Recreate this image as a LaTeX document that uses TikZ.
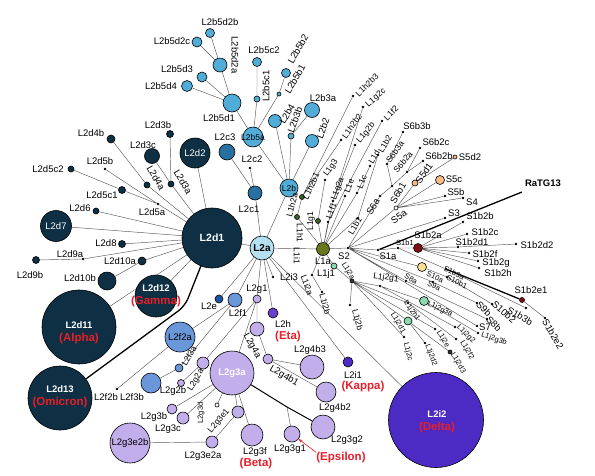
\documentclass[tikz,border=0pt]{standalone}
\usepackage{fontspec}
\setmainfont{Liberation Sans}
\usetikzlibrary{arrows.meta,backgrounds}

\definecolor{navy}{RGB}{14,47,68}
\definecolor{skyb}{RGB}{82,172,216}
\definecolor{midb}{RGB}{40,112,160}
\definecolor{paleb}{RGB}{180,224,242}
\definecolor{deepb}{RGB}{30,84,162}
\definecolor{cornb}{RGB}{106,150,218}
\definecolor{lilac}{RGB}{194,174,234}
\definecolor{violetb}{RGB}{104,66,204}
\definecolor{indig}{RGB}{76,42,196}
\definecolor{oliveb}{RGB}{106,118,30}
\definecolor{leaf}{RGB}{60,100,40}
\definecolor{mint}{RGB}{140,216,176}
\definecolor{peach}{RGB}{246,188,136}
\definecolor{butter}{RGB}{250,224,144}
\definecolor{wine}{RGB}{128,16,16}
\definecolor{redlab}{RGB}{232,30,40}
\definecolor{linegray}{RGB}{88,88,88}

\newcommand{\vname}[1]{{\color{redlab}\fontsize{11.5}{13}\selectfont\bfseries #1}}

\tikzset{
  link/.style={draw=linegray, line width=0.45pt},
  trunk/.style={draw=black, line width=1.3pt, rounded corners=8pt},
  bub/.style={circle, draw=black, line width=0.6pt, inner sep=0pt, minimum size=#1},
  nv/.style={bub=#1, fill=navy},
  sk/.style={bub=#1, fill=skyb},
  md/.style={bub=#1, fill=midb},
  cb/.style={bub=#1, fill=cornb},
  li/.style={bub=#1, fill=lilac},
  mi/.style={bub=#1, fill=mint},
  spot/.style={circle, fill=black, inner sep=0pt, minimum size=2.8pt},
  lab/.style={font=\fontsize{9.5}{11}\selectfont, inner sep=0pt},
  slab/.style={font=\fontsize{8.5}{10}\selectfont, inner sep=0pt},
  xlab/.style={font=\fontsize{7.5}{9}\selectfont, inner sep=0pt},
  wtxt/.style={font=\fontsize{9.5}{11}\selectfont, text=white, inner sep=0pt},
  wbold/.style={font=\fontsize{9.5}{13}\selectfont\bfseries, text=white, align=center, inner sep=0pt},
  dtxt/.style={font=\fontsize{9}{11}\selectfont, inner sep=0pt},
  vlab/.style={font=\fontsize{11.5}{13}\selectfont\bfseries, text=redlab, inner sep=0pt},
  ratg/.style={font=\fontsize{9.5}{11}\selectfont\bfseries, inner sep=0pt},
}

\begin{document}
\begin{tikzpicture}[x=1pt,y=-1pt]
\useasboundingbox (0,0) rectangle (595,475);

% L2d lineage
\node[nv=60pt] (L2d1) at (212,238) {};
\node[wbold,font=\fontsize{10.5}{12}\selectfont\bfseries] (L2d1-t) at (L2d1) {L2d1};
\node[nv=30pt] (L2d2) at (195,153) {};
\node[wtxt] (L2d2-t) at (L2d2) {L2d2};
\node[nv=7pt] (L2d3b) at (170,134) {};
\node[lab] (L2d3b-t) at (158,125) {L2d3b};
\node[nv=15pt] (L2d3c) at (152,156) {};
\node[lab] (L2d3c-t) at (143,145) {L2d3c};
\node[nv=6pt] (L2d3a) at (171,184) {};
\node[lab,rotate=-60] (L2d3a-t) at (183,182) {L2d3a};
\node[nv=8pt] (L2d4b) at (111,139) {};
\node[lab] (L2d4b-t) at (91,133) {L2d4b};
\node[nv=6pt] (L2d4a) at (147,185) {};
\node[lab,rotate=-60] (L2d4a-t) at (156,178) {L2d4a};
\node[nv=6pt] (L2d5c2) at (71,169) {};
\node[lab] (L2d5c2-t) at (48,169) {L2d5c2};
\node[spot] (L2d5b) at (105,169) {};
\node[lab] (L2d5b-t) at (100,161) {L2d5b};
\node[nv=7pt] (L2d5c1) at (122,190) {};
\node[lab] (L2d5c1-t) at (102,195) {L2d5c1};
\node[spot] (L2d5a) at (158,204) {};
\node[lab] (L2d5a-t) at (152,212) {L2d5a};
\node[nv=6pt] (L2d6) at (96,211) {};
\node[lab] (L2d6-t) at (80,208) {L2d6};
\node[nv=31pt] (L2d7) at (56,226) {};
\node[wtxt] (L2d7-t) at (L2d7) {L2d7};
\node[nv=7pt] (L2d8) at (122,244) {};
\node[lab] (L2d8-t) at (106,243) {L2d8};
\node[spot] (L2d9a) at (83,259) {};
\node[lab] (L2d9a-t) at (70,254) {L2d9a};
\node[nv=7pt] (L2d9b) at (36,260) {};
\node[lab] (L2d9b-t) at (30,275) {L2d9b};
\node[nv=8pt] (L2d10a) at (142,261) {};
\node[lab] (L2d10a-t) at (120,261) {L2d10a};
\node[nv=18pt] (L2d10b) at (107,281) {};
\node[lab] (L2d10b-t) at (80,278) {L2d10b};
\node[nv=42pt] (L2d12) at (156,296) {};
\node[wbold] (L2d12-t) at (156,296) {L2d12\\\vname{(Gamma)}};
\node[nv=74pt] (L2d11) at (79,327) {};
\node[wbold] (L2d11-t) at (79,333) {L2d11\\\vname{(Alpha)}};
\node[nv=64pt] (L2d13) at (60,398) {};
\node[wbold] (L2d13-t) at (60,397) {L2d13\\\vname{(Omicron)}};
\coordinate (bendD) at (185,306);

% L2b lineage
\node[sk=10pt] (L2b5d2c) at (197,42) {};
\node[lab] (L2b5d2c-t) at (172,41) {L2b5d2c};
\node[sk=9pt] (L2b5d2b) at (210,33) {};
\node[lab] (L2b5d2b-t) at (220,22) {L2b5d2b};
\node[sk=14pt] (L2b5d2a) at (220,65) {};
\node[lab,rotate=-90] (L2b5d2a-t) at (235,55) {L2b5d2a};
\node[sk=10pt] (L2b5d3) at (202,77) {};
\node[lab] (L2b5d3-t) at (177,69) {L2b5d3};
\node[sk=11pt] (L2b5d4) at (187,86) {};
\node[lab] (L2b5d4-t) at (161,86) {L2b5d4};
\node[sk=18pt] (L2b5d1) at (232,103) {};
\node[lab] (L2b5d1-t) at (219,118) {L2b5d1};
\node[sk=9pt] (L2b5c2) at (257,62) {};
\node[lab] (L2b5c2-t) at (264,50) {L2b5c2};
\node[sk=6pt] (L2b5c1) at (257,99) {};
\node[lab,rotate=90] (L2b5c1-t) at (266,86) {L2b5c1};
\node[sk=9pt] (L2b5b2) at (286,73) {};
\node[lab,rotate=60] (L2b5b2-t) at (298,49) {L2b5b2};
\node[sk=4pt] (L2b5b1) at (279,94) {};
\node[lab,rotate=60] (L2b5b1-t) at (295,79) {L2b5b1};
\node[sk=20pt] (L2b5a) at (253,137) {};
\node[dtxt,font=\fontsize{8.5}{10}\selectfont] (L2b5a-t) at (L2b5a) {L2b5a};
\node[sk=13pt] (L2b4) at (275,121) {};
\node[lab,rotate=60] (L2b4-t) at (287,114) {L2b4};
\node[sk=6pt] (L2b3b) at (291,136) {};
\node[lab,rotate=70] (L2b3b-t) at (295,120) {L2b3b};
\node[sk=15pt] (L2b3a) at (312,110) {};
\node[lab] (L2b3a-t) at (323,98) {L2b3a};
\node[sk=13pt] (L2b2) at (312,141) {};
\node[lab,rotate=70] (L2b2-t) at (323,128) {L2b2};
\node[sk=18pt] (L2b) at (289,188) {};
\node[dtxt,font=\fontsize{8.5}{10}\selectfont] (L2b-t) at (L2b) {L2b};

% L2c and L2a
\node[md=16pt] (L2c3) at (227,152) {};
\node[lab] (L2c3-t) at (225,137) {L2c3};
\node[spot] (L2c2) at (250,168) {};
\node[lab] (L2c2-t) at (252,159) {L2c2};
\node[md=14pt] (L2c1) at (255,193) {};
\node[lab] (L2c1-t) at (249,209) {L2c1};
\node[bub=24pt,fill=paleb] (L2a) at (262,248) {};
\node[dtxt,font=\fontsize{10}{12}\selectfont\bfseries] (L2a-t) at (L2a) {L2a};

% lower L2 lineages
\node[bub=8pt,fill=deepb] (L2e) at (219,299) {};
\node[lab] (L2e-t) at (209,306) {L2e};
\node[cb=14pt] (L2f1) at (235,300) {};
\node[lab] (L2f1-t) at (238,313) {L2f1};
\node[cb=30pt] (L2f2a) at (180,337) {};
\node[dtxt,font=\fontsize{9.5}{11}\selectfont] (L2f2a-t) at (L2f2a) {L2f2a};
\node[cb=8pt] (L2f3a) at (179,368) {};
\node[slab,rotate=60] (L2f3a-t) at (189,356) {L2f3a};
\node[cb=20pt] (L2f3b) at (151,383) {};
\node[lab] (L2f3b-t) at (132,397) {L2f3b};
\node[spot] (L2f2b) at (117,389) {};
\node[lab] (L2f2b-t) at (106,397) {L2f2b};
\node[li=8pt] (L2g1) at (257,299) {};
\node[lab] (L2g1-t) at (257,289) {L2g1};
\node[li=12pt] (L2g2a) at (203,363) {};
\node[slab,rotate=60] (L2g2a-t) at (196,380) {L2g2a};
\node[li=7pt] (L2g2b) at (181,383) {};
\node[lab] (L2g2b-t) at (173,391) {L2g2b};
\node[li=44pt] (L2g3a) at (232,373) {};
\node[wbold,font=\fontsize{9.5}{11}\selectfont\bfseries] (L2g3a-t) at (L2g3a) {L2g3a};
\node[li=10pt] (L2g3b) at (172,409) {};
\node[lab] (L2g3b-t) at (154,417) {L2g3b};
\node[li=12pt] (L2g3c) at (183,418) {};
\node[lab] (L2g3c-t) at (168,429) {L2g3c};
\node[bub=4pt,fill=white] (L2g3d) at (217,405) {};
\node[xlab,rotate=90] (L2g3d-t) at (201,413) {L2g3d};
\node[li=12pt] (L2g3e1) at (238,412) {};
\node[slab,rotate=50] (L2g3e1-t) at (219,421) {L2g3e1};
\node[li=12pt] (L2g3e2a) at (212,442) {};
\node[lab] (L2g3e2a-t) at (203,456) {L2g3e2a};
\node[li=40pt] (L2g3e2b) at (130,443) {};
\node[dtxt,font=\fontsize{9.5}{11}\selectfont] (L2g3e2b-t) at (L2g3e2b) {L2g3e2b};
\node[li=22pt] (L2g3f) at (252,435) {};
\node[lab] (L2g3f-t) at (255,452) {L2g3f};
\node[vlab] (Beta) at (256,464) {(Beta)};
\node[li=16pt] (L2g3g1) at (292,434) {};
\node[lab] (L2g3g1-t) at (290,449) {L2g3g1};
\node[li=24pt] (L2g3g2) at (323,427) {};
\node[lab] (L2g3g2-t) at (347,440) {L2g3g2};
\node[vlab] (Epsilon) at (341,458) {(Epsilon)};
\coordinate (bendG) at (287,407);
\node[li=14pt] (L2g4a) at (257,329) {};
\node[lab,rotate=-60] (L2g4a-t) at (252,346) {L2g4a};
\node[li=10pt] (L2g4b1) at (268,359) {};
\node[lab,rotate=-30] (L2g4b1-t) at (284,376) {L2g4b1};
\node[li=24pt] (L2g4b3) at (312,367) {};
\node[lab] (L2g4b3-t) at (310,350) {L2g4b3};
\node[li=20pt] (L2g4b2) at (326,392) {};
\node[lab] (L2g4b2-t) at (335,408) {L2g4b2};
\node[bub=10pt,fill=violetb] (L2h) at (273,313) {};
\node[lab] (L2h-t) at (283,324) {L2h};
\node[vlab] (Eta) at (288,337) {(Eta)};
\node[bub=10pt,fill=indig] (L2i1) at (348,362) {};
\node[lab] (L2i1-t) at (353,375) {L2i1};
\node[vlab] (Kappa) at (363,387) {(Kappa)};
\node[bub=95pt,fill=indig] (L2i2) at (436,420) {};
\node[wbold] (L2i2-t) at (437,422) {L2i2\\\vname{(Delta)}};
\node[spot] (L2i3) at (273,277) {};
\node[lab] (L2i3-t) at (289,277) {L2i3};

% L1 lineages
\node[bub=13pt,fill=oliveb] (L1a) at (323,249) {};
\node[lab] (L1a-t) at (323,261) {L1a};
\node[bub=5pt,fill=leaf] (L1h2a) at (297,217) {};
\node[slab,rotate=75] (L1h2a-t) at (292,205) {L1h2a};
\node[bub=5pt,fill=leaf] (L1h2b1) at (302,197) {};
\node[slab,rotate=65] (L1h2b1-t) at (311,186) {L1h2b1};
\node[spot] (L1h2b2) at (341,140) {};
\node[slab,rotate=55] (L1h2b2-t) at (352,126) {L1h2b2};
\node[spot] (L1h2b3) at (353,96) {};
\node[slab,rotate=45] (L1h2b3-t) at (367,85) {L1h2b3};
\node[bub=5pt,fill=leaf] (L1g1) at (318,221) {};
\node[slab,rotate=90] (L1g1-t) at (311,221) {L1g1};
\node[spot] (L1g3) at (325,180) {};
\node[slab,rotate=55] (L1g3-t) at (331,168) {L1g3};
\node[spot] (L1g2a) at (333,201) {};
\node[slab,rotate=70] (L1g2a-t) at (338,189) {L1g2a};
\node[spot] (L1g2b) at (355,145) {};
\node[slab,rotate=50] (L1g2b-t) at (366,133) {L1g2b};
\node[spot] (L1g2c) at (363,107) {};
\node[slab,rotate=40] (L1g2c-t) at (376,98) {L1g2c};
\node[spot] (L1f1) at (328,222) {};
\node[slab,rotate=70] (L1f1-t) at (331,211) {L1f1};
\node[spot] (L1f2) at (382,121) {};
\node[slab,rotate=45] (L1f2-t) at (391,113) {L1f2};
\node[spot] (L1e) at (345,196) {};
\node[slab,rotate=70] (L1e-t) at (349,186) {L1e};
\node[spot] (L1c) at (357,193) {};
\node[slab,rotate=70] (L1c-t) at (362,182) {L1c};
\node[spot] (L1d) at (370,166) {};
\node[slab,rotate=60] (L1d-t) at (374,157) {L1d};
\node[spot] (L1b1) at (358,218) {};
\node[slab,rotate=60] (L1b1-t) at (355,226) {L1b1};
\node[spot] (L1b2) at (378,155) {};
\node[slab,rotate=60] (L1b2-t) at (385,144) {L1b2};
\node[slab,rotate=-90] (L1h1-t) at (300,233) {L1h1};
\node[slab,rotate=-90] (L1i1-t) at (297,256) {L1i1};
\node[spot] (L1i2a) at (312,275) {};
\node[slab,rotate=-70] (L1i2a-t) at (307,285) {L1i2a};
\node[spot] (L1i2b) at (322,292) {};
\node[slab,rotate=-75] (L1i2b-t) at (325,304) {L1i2b};

% L1j
\node[mi=6pt] (L1j1) at (334,266) {};
\node[lab] (L1j1-t) at (326,274) {L1j1};
\node[bub=4pt,fill=black!80] (L1j2a) at (352,281) {};
\node[xlab,rotate=-60] (L1j2a-t) at (348,271) {L1j2a};
\node[spot] (L1j2b) at (350,305) {};
\node[slab,rotate=-75] (L1j2b-t) at (357,320) {L1j2b};
\node[spot] (L1j2g1) at (380,286) {};
\node[slab,rotate=-8] (L1j2g1-t) at (386,278) {L1j2g1};
\node[mi=9pt] (L1j2g3a) at (424,301) {};
\node[xlab,rotate=-25] (L1j2g3a-t) at (440,309) {L1j2g3a};
\node[spot] (L1j2g3b) at (478,333) {};
\node[xlab,rotate=-20] (L1j2g3b-t) at (494,339) {L1j2g3b};
\node[spot] (L1j2g2) at (455,327) {};
\node[xlab,rotate=-45] (L1j2g2-t) at (466,334) {L1j2g2};
\node[spot] (L1j2f2) at (456,339) {};
\node[xlab,rotate=-60] (L1j2f2-t) at (467,350) {L1j2f2};
\node[spot] (L1j2h1) at (408,303) {};
\node[xlab,rotate=-55] (L1j2h1-t) at (412,311) {L1j2h1};
\node[mi=8pt] (L1j2d1) at (408,321) {};
\node[xlab,rotate=-60] (L1j2d1-t) at (398,323) {L1j2d1};
\node[spot] (L1j2c) at (404,337) {};
\node[xlab,rotate=-75] (L1j2c-t) at (408,352) {L1j2c};
\node[spot] (L1j2d2) at (425,343) {};
\node[xlab,rotate=-70] (L1j2d2-t) at (431,355) {L1j2d2};
\node[bub=4pt,fill=black!80] (L1j2d3) at (450,352) {};
\node[xlab,rotate=-60] (L1j2d3-t) at (458,363) {L1j2d3};
\node[spot] (L1j2e) at (435,329) {};
\node[xlab,rotate=-60] (L1j2e-t) at (443,339) {L1j2e};

% S lineages
\node[spot] (S2) at (348,248) {};
\node[lab] (S2-t) at (344,256) {S2};
\node[spot] (S1a) at (378,250) {};
\node[lab] (S1a-t) at (388,256) {S1a};
\node[spot] (S1b1) at (398,248) {};
\node[xlab] (S1b1-t) at (405,243) {S1b1};
\node[bub=9pt,fill=wine] (S1b2a) at (418,248) {};
\node[lab] (S1b2a-t) at (428,235) {S1b2a};
\node[spot] (S1b2b) at (463,222) {};
\node[lab] (S1b2b-t) at (480,216) {S1b2b};
\node[spot] (S1b2c) at (467,234) {};
\node[lab] (S1b2c-t) at (485,232) {S1b2c};
\node[spot] (S1b2d1) at (458,247) {};
\node[lab] (S1b2d1-t) at (472,242) {S1b2d1};
\node[spot] (S1b2d2) at (516,244) {};
\node[lab] (S1b2d2-t) at (537,245) {S1b2d2};
\node[spot] (S1b2f) at (469,253) {};
\node[lab] (S1b2f-t) at (485,254) {S1b2f};
\node[spot] (S1b2g) at (478,261) {};
\node[lab] (S1b2g-t) at (496,263) {S1b2g};
\node[spot] (S1b2h) at (479,268) {};
\node[lab] (S1b2h-t) at (498,273) {S1b2h};
\node[bub=5pt,fill=wine] (S1b2e1) at (522,300) {};
\node[lab] (S1b2e1-t) at (531,290) {S1b2e1};
\node[spot] (S1b2e2) at (545,318) {};
\node[lab,rotate=-60] (S1b2e2-t) at (553,334) {S1b2e2};
\node[spot] (S1b3a) at (446,269) {};
\node[xlab,rotate=-25] (S1b3a-t) at (454,273) {S1b3a};
\node[spot] (S1b3b) at (526,308) {};
\node[lab,rotate=-30] (S1b3b-t) at (520,316) {S1b3b};
\node[spot] (S3) at (445,218) {};
\node[lab] (S3-t) at (454,213) {S3};
\node[spot] (S4) at (463,198) {};
\node[lab] (S4-t) at (472,202) {S4};
\node[bub=4pt,fill=white] (S5a) at (396,208) {};
\node[lab,rotate=35] (S5a-t) at (399,217) {S5a};
\node[spot] (S5b) at (445,196) {};
\node[lab] (S5b-t) at (456,192) {S5b};
\node[bub=9pt,fill=peach] (S5c) at (440,180) {};
\node[lab] (S5c-t) at (454,179) {S5c};
\node[bub=6pt,fill=peach] (S5d1) at (415,183) {};
\node[lab,rotate=55] (S5d1-t) at (424,173) {S5d1};
\node[bub=4pt,fill=peach] (S5d2) at (455,157) {};
\node[lab] (S5d2-t) at (470,157) {S5d2};
\node[spot] (S6a) at (380,196) {};
\node[lab,rotate=60] (S6a-t) at (373,207) {S6a};
\node[spot] (S6b1) at (392,186) {};
\node[lab,rotate=60] (S6b1-t) at (398,193) {S6b1};
\node[spot] (S6b2a) at (407,172) {};
\node[slab,rotate=50] (S6b2a-t) at (403,162) {S6b2a};
\node[spot] (S6b2b) at (423,161) {};
\node[lab] (S6b2b-t) at (439,156) {S6b2b};
\node[spot] (S6b2c) at (420,148) {};
\node[lab] (S6b2c-t) at (436,142) {S6b2c};
\node[spot] (S6b3a) at (387,164) {};
\node[slab,rotate=55] (S6b3a-t) at (395,152) {S6b3a};
\node[spot] (S6b3b) at (403,132) {};
\node[lab] (S6b3b-t) at (417,126) {S6b3b};
\node[spot] (S7) at (477,326) {};
\node[lab] (S7-t) at (485,327) {S7};
\node[spot] (S8a) at (406,281) {};
\node[xlab,rotate=-30] (S8a-t) at (411,279) {S8a};
\node[spot] (S8b) at (487,319) {};
\node[lab,rotate=-45] (S8b-t) at (494,324) {S8b};
\node[spot] (S9a) at (433,282) {};
\node[xlab,rotate=-25] (S9a-t) at (434,286) {S9a};
\node[spot] (S9b) at (477,303) {};
\node[lab,rotate=-45] (S9b-t) at (484,309) {S9b};
\node[bub=9pt,fill=butter] (S10a) at (422,267) {};
\node[xlab,rotate=-25] (S10a-t) at (435,277) {S10a};
\node[spot] (S10b1) at (447,277) {};
\node[xlab,rotate=-25] (S10b1-t) at (457,282) {S10b1};
\node[spot] (S10b2) at (492,304) {};
\node[lab,rotate=-40] (S10b2-t) at (504,312) {S10b2};
\coordinate (RaTG13) at (522,192);
\node[ratg] (RaTG13-t) at (543,183) {RaTG13};

\begin{scope}[on background layer]
\fill[white] (0,0) rectangle (595,475);
% L2d
\draw[link] (L2d1) -- (L2d2) (L2d1) -- (L2d3a) -- (L2d3b) (L2d3a) -- (L2d3c)
  (L2d1) -- (L2d4a) -- (L2d4b)
  (L2d1) -- (L2d5a) -- (L2d5c1) -- (L2d5c2) (L2d5a) -- (L2d5b)
  (L2d1) -- (L2d6) (L2d1) -- (L2d7) (L2d1) -- (L2d8)
  (L2d1) -- (L2d9a) -- (L2d9b)
  (L2d1) -- (L2d10a) -- (L2d10b)
  (L2d1) -- (L2d11) (L2d1) -- (L2d12);
\draw[trunk] (L2d13) -- (bendD) -- (L2d1);
% L2b
\draw[link] (L2b5d1) -- (L2b5d2a) -- (L2b5d2b) (L2b5d2a) -- (L2b5d2c)
  (L2b5d1) -- (L2b5d3) (L2b5d1) -- (L2b5d4)
  (L2b5a) -- (L2b5d1) (L2b5a) -- (L2b5c1) -- (L2b5c2)
  (L2b5a) -- (L2b5b1) -- (L2b5b2)
  (L2b) -- (L2b5a) (L2b) -- (L2b4) (L2b) -- (L2b3b) -- (L2b3a) (L2b) -- (L2b2);
% L2a hub
\draw[link] (L2a) -- (L2b) (L2a) -- (L2c1) -- (L2c2) (L2c1) -- (L2c3)
  (L2a) -- (L2d1) (L2a) -- (L1a)
  (L2a) -- (L2e) (L2a) -- (L2f1) (L2a) -- (L2g1) (L2a) -- (L2h)
  (L2a) -- (L2i3) (L2a) -- (L2i1) (L2a) -- (L2i2);
% L2f, L2g
\draw[link] (L2f1) -- (L2f2a) -- (L2f2b) (L2f1) -- (L2f3a) -- (L2f3b)
  (L2g1) -- (L2g2a) -- (L2g2b) (L2g1) -- (L2g3a)
  (L2g1) -- (L2g4a) -- (L2g4b1) -- (L2g4b3) (L2g4b1) -- (L2g4b2)
  (L2g3a) -- (L2g3b) (L2g3a) -- (L2g3c) (L2g3a) -- (L2g3d)
  (L2g3a) -- (L2g3e1) -- (L2g3e2a) -- (L2g3e2b)
  (L2g3a) -- (L2g3f) (bendG) -- (L2g3g1);
\draw[trunk,line width=1pt,rounded corners=0pt] (L2g3a) -- (bendG) -- (L2g3g2);
\draw[redlab,line width=0.6pt,-{Stealth[length=4pt]}] (Epsilon.north west) -- (L2g3g1);
% L1
\draw[link] (L1a) -- (L1h2a) -- (L1h2b1) -- (L1h2b2) (L1h2b1) -- (L1h2b3)
  (L1a) -- (L1g1) -- (L1g3)
  (L1a) -- (L1g2a) -- (L1g2b) (L1g2a) -- (L1g2c)
  (L1a) -- (L1f1) -- (L1f2)
  (L1a) -- (L1e) (L1a) -- (L1c) -- (L1d) (L1a) -- (L1b1) -- (L1b2)
  (L1a) -- (L1i2a) -- (L1i2b)
  (L1a) -- (L1j1) -- (L1j2a)
  (L1j2a) -- (L1j2b) (L1j2a) -- (L1j2g1) -- (L1j2g3a) -- (L1j2g3b) (L1j2g1) -- (L1j2g2)
  (L1j2a) -- (L1j2h1) -- (L1j2f2) (L1j2a) -- (L1j2e)
  (L1j2a) -- (L1j2d1) -- (L1j2d2) (L1j2d1) -- (L1j2d3) (L1j2a) -- (L1j2c);
% S
\draw[link] (L1a) -- (S2) -- (S1a) -- (S1b1) -- (S1b2a)
  (S1b2a) -- (S1b2b) (S1b2a) -- (S1b2c) (S1b2a) -- (S1b2d1) -- (S1b2d2)
  (S1b2a) -- (S1b2f) (S1b2a) -- (S1b2g) (S1b2a) -- (S1b2h)
  (S1b1) -- (S1b3a) -- (S1b3b) (S1b2e1) -- (S1b2e2)
  (S2) -- (S3) (S2) -- (S5a) -- (S4) (S5a) -- (S5b) (S5a) -- (S5c) (S5a) -- (S5d1) -- (S5d2)
  (S2) -- (S6a) -- (S6b1) -- (S6b2a) -- (S6b2b) (S6b2a) -- (S6b2c) (S6b1) -- (S6b3a) -- (S6b3b)
  (S2) -- (S7) (S2) -- (S8a) -- (S8b) (S2) -- (S9a) -- (S9b) (S2) -- (S10a) -- (S10b1) -- (S10b2);
\draw[trunk] (S1a) -- (RaTG13);
\draw[trunk] (S1b3a) -- (S1b2e1);
\end{scope}
\end{tikzpicture}
\end{document}
